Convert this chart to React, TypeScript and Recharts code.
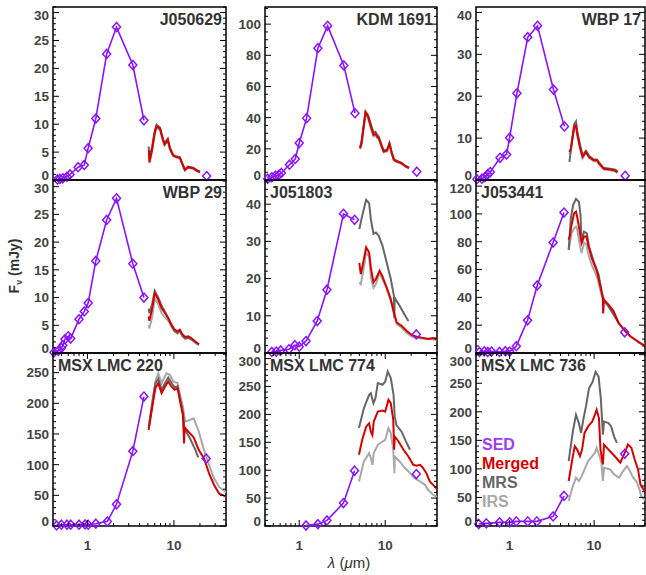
import React from "react"
import { LineChart, Line, XAxis, YAxis, ReferenceArea } from "recharts"

type Pt = [number, number]

// x axis (wavelength, micron, log)
const xMinorTicks = [0.4, 0.5, 0.6, 0.7, 0.8, 0.9, 1, 2, 3, 4, 5, 6, 7, 8, 9, 10, 20, 30, 40]
const xLabelTicks = [1, 10]

// ---- J050629
const j050629Sed: Pt[] = [[0.45, 0.1], [0.48, 0.2], [0.52, 0.3], [0.58, 0.6], [0.63, 1.0], [0.78, 2.3], [0.92, 2.7], [1.02, 5.7], [1.25, 11.0], [1.67, 22.6], [2.17, 27.4], [3.35, 20.6], [4.5, 10.7]]
const j050629Sed24: Pt[] = [[23.9, 0.7]]
const j050629Merged: Pt[] = [[5.15, 5.3], [5.22, 3.2], [5.6, 5.5], [6.0, 8.5], [6.3, 9.6], [6.9, 9.2], [7.5, 7.1], [7.8, 6.4], [8.5, 7.2], [9.0, 5.6], [9.8, 4.4], [10.8, 4.1], [11.7, 4.0], [12.5, 2.9], [13.4, 1.8], [14.5, 2.3], [16.7, 2.1], [18.3, 1.7], [20.0, 1.4]]
const j050629Mrs: Pt[] = [[5.1, 6.0], [5.2, 4.0], [5.6, 6.0], [6.0, 8.8], [6.3, 9.9], [6.9, 9.4], [7.5, 7.3], [7.8, 6.6], [8.5, 7.4], [9.0, 5.8], [9.8, 4.5], [10.8, 4.2], [11.7, 4.1], [12.5, 3.0], [13.4, 1.9], [14.5, 2.4], [16.7, 2.2], [18.3, 1.8], [20.0, 1.5]]
const j050629Irs: Pt[] = [[5.15, 4.8], [5.22, 3.0], [5.6, 5.2], [6.0, 8.2], [6.3, 9.3], [6.9, 9.0], [7.5, 6.9], [7.8, 6.2], [8.5, 7.0], [9.0, 5.5], [9.8, 4.3], [10.8, 4.0], [11.7, 3.9], [12.5, 2.8], [13.4, 1.7], [14.5, 2.2], [16.7, 2.0], [18.3, 1.6], [20.0, 1.3]]

// ---- KDM 1691
const kdm1691Sed: Pt[] = [[0.43, 0.8], [0.48, 1.7], [0.53, 2.8], [0.58, 3.4], [0.62, 4.5], [0.77, 9.8], [0.9, 13.5], [1.0, 23.7], [1.22, 39.7], [1.65, 84.6], [2.14, 98.9], [3.3, 73.5], [4.45, 42.9]]
const kdm1691Sed24: Pt[] = [[23.3, 5.3]]
const kdm1691Merged: Pt[] = [[5.1, 20.4], [5.3, 23.6], [5.9, 43.3], [6.3, 40.8], [6.9, 33.3], [7.3, 29.0], [7.7, 29.6], [8.1, 27.6], [8.4, 27.0], [9.1, 21.5], [9.6, 18.3], [10.5, 18.9], [11.2, 23.3], [11.9, 17.3], [12.6, 13.0], [13.5, 12.0], [15.3, 10.9], [17.3, 8.7], [18.9, 7.7]]
const kdm1691Mrs: Pt[] = [[5.1, 21.0], [5.3, 24.5], [5.9, 44.0], [6.3, 41.8], [6.9, 34.8], [7.3, 30.5], [7.7, 31.0], [8.1, 28.8], [8.4, 28.0], [9.1, 22.3], [9.6, 19.0], [10.5, 19.5], [11.2, 23.8], [11.9, 17.8], [12.6, 13.5], [13.5, 12.4], [15.3, 11.2], [17.3, 9.0], [18.9, 8.0]]
const kdm1691Irs: Pt[] = [[5.1, 19.8], [5.3, 22.8], [5.9, 42.5], [6.3, 39.8], [6.9, 32.2], [7.3, 28.0], [7.7, 28.6], [8.1, 26.8], [8.4, 26.2], [9.1, 21.0], [9.6, 17.8], [10.5, 18.4], [11.2, 22.8], [11.9, 16.8], [12.6, 12.6], [13.5, 11.6], [15.3, 10.5], [17.3, 8.4], [18.9, 7.4]]

// ---- WBP 17
const wbp17Sed: Pt[] = [[0.41, 0.2], [0.47, 0.3], [0.51, 0.7], [0.55, 1.4], [0.59, 1.9], [0.77, 5.3], [0.92, 6.1], [1.0, 10.1], [1.22, 20.7], [1.64, 34.1], [2.14, 36.8], [3.3, 21.6], [4.45, 12.8]]
const wbp17Sed24: Pt[] = [[23.3, 1.0]]
const wbp17Merged: Pt[] = [[5.1, 6.7], [5.3, 7.5], [5.8, 12.7], [6.1, 13.0], [6.3, 11.1], [6.8, 7.9], [7.3, 5.5], [8.0, 6.7], [8.7, 5.5], [9.9, 4.7], [10.8, 4.7], [11.6, 3.8], [13.0, 2.7], [15.4, 2.5], [17.5, 2.3], [18.9, 1.9]]
const wbp17Mrs: Pt[] = [[5.1, 4.3], [5.3, 7.0], [5.8, 13.3], [6.1, 14.0], [6.3, 11.8], [6.8, 8.4], [7.3, 5.9], [8.0, 7.0], [8.7, 5.8], [9.9, 4.9], [10.8, 4.9], [11.6, 4.0], [13.0, 2.9], [15.4, 2.7], [17.5, 2.5], [18.9, 2.1]]
const wbp17Irs: Pt[] = [[5.1, 6.2], [5.3, 7.2], [5.8, 12.2], [6.1, 12.6], [6.3, 10.7], [6.8, 7.6], [7.3, 5.2], [8.0, 6.5], [8.7, 5.3], [9.9, 4.5], [10.8, 4.5], [11.6, 3.6], [13.0, 2.5], [15.4, 2.3], [17.5, 2.1], [18.9, 1.7]]

// ---- WBP 29
const wbp29Sed: Pt[] = [[0.41, 0.1], [0.46, 0.4], [0.5, 0.9], [0.52, 1.4], [0.55, 2.5], [0.6, 3.0], [0.64, 2.6], [0.8, 6.1], [0.92, 7.5], [1.02, 9.0], [1.25, 16.6], [1.67, 24.0], [2.17, 27.9], [3.35, 16.1], [4.5, 10.0]]
const wbp29Sed24: Pt[] = []
const wbp29Merged: Pt[] = [[5.1, 6.6], [5.2, 5.8], [5.6, 8.0], [6.0, 10.8], [6.6, 9.6], [7.2, 8.1], [7.9, 7.2], [8.6, 6.3], [9.4, 5.1], [10.2, 4.2], [11.0, 3.9], [11.7, 4.2], [12.5, 3.4], [13.5, 2.9], [14.7, 3.0], [15.8, 2.7], [18.6, 1.8], [19.5, 1.6]]
const wbp29Mrs: Pt[] = [[5.1, 8.0], [5.2, 7.2], [5.6, 8.8], [6.0, 11.2], [6.6, 10.0], [7.2, 8.5], [7.9, 7.4], [8.6, 6.2], [9.4, 4.9], [10.2, 3.9], [11.0, 3.6], [11.7, 4.0], [12.5, 3.1], [13.5, 2.6], [14.7, 2.7], [15.8, 2.5], [18.6, 1.7], [19.5, 1.5]]
const wbp29Irs: Pt[] = [[5.1, 5.0], [5.2, 4.4], [5.6, 6.5], [6.0, 9.8], [6.6, 8.8], [7.2, 7.2], [7.9, 6.4], [8.6, 5.8], [9.4, 4.7], [10.2, 3.9], [11.0, 3.5], [11.7, 3.9], [12.5, 3.1], [13.5, 2.6], [14.7, 2.8], [15.8, 2.5], [18.6, 1.6], [19.5, 1.5]]

// ---- J051803
const j051803Sed: Pt[] = [[0.48, 0.3], [0.54, 0.4], [0.61, 0.7], [0.76, 1.0], [0.89, 2.1], [1.0, 1.7], [1.2, 3.2], [1.62, 8.6], [2.1, 17.0], [3.27, 37.4], [4.4, 35.8]]
const j051803Sed24: Pt[] = [[23.0, 5.0]]
const j051803Merged: Pt[] = [[5.0, 24.2], [5.2, 21.2], [5.5, 23.9], [6.0, 28.4], [6.5, 27.0], [6.8, 23.0], [7.3, 19.0], [7.8, 19.9], [8.6, 22.1], [9.2, 20.8], [10.2, 18.1], [11.6, 14.5], [12.5, 11.3], [13.6, 8.2], [15.5, 7.3], [17.8, 5.9], [20.4, 4.8], [23.4, 4.4], [26.7, 4.1], [31.7, 3.8], [36.0, 4.0], [40.0, 3.6]]
const j051803Mrs: Pt[] = [[5.0, 33.3], [5.4, 36.9], [6.0, 41.2], [6.5, 40.3], [6.8, 36.0], [7.3, 32.0], [7.8, 32.4], [8.4, 31.5], [9.3, 28.8], [10.5, 23.9], [11.6, 19.9], [12.6, 15.5], [12.75, 9.5], [12.9, 14.8], [14.7, 12.7], [16.7, 10.4], [18.6, 8.6]]
const j051803Irs: Pt[] = [[5.0, 19.0], [5.2, 18.5], [5.5, 21.5], [6.0, 27.0], [6.5, 26.0], [6.8, 20.5], [7.3, 17.5], [7.8, 18.5], [8.6, 21.5], [9.2, 20.0], [10.2, 17.8], [11.6, 14.0], [12.5, 10.8], [13.6, 7.8], [15.5, 6.8], [17.8, 5.4], [20.4, 4.4], [23.4, 4.0], [30.0, 3.8], [37.0, 3.6], [40.0, 3.4]]

// ---- J053441
const j053441Sed: Pt[] = [[0.44, 0.8], [0.5, 1.2], [0.55, 0.8], [0.61, 1.0], [0.76, 0.8], [0.89, 1.3], [1.0, 1.0], [1.2, 4.9], [1.63, 23.5], [2.12, 48.6], [3.27, 79.4], [4.4, 101.0]]
const j053441Sed24: Pt[] = [[23.0, 14.9]]
const j053441Merged: Pt[] = [[5.0, 81.4], [5.2, 85], [5.4, 92.1], [5.8, 100.5], [6.1, 101.7], [6.3, 98], [6.7, 88.5], [7.1, 79], [7.6, 83.7], [8.1, 83.7], [8.5, 77.8], [9.4, 68.2], [10.8, 58.7], [12.2, 44.3], [12.7, 39.6], [12.8, 28.8], [13.0, 38.4], [14.8, 34.8], [17.0, 30.0], [19.5, 21.6], [23.5, 15.6], [26.9, 12.0], [30.5, 9.7], [34.8, 7.3], [37.0, 6.2], [40.0, 5.5]]
const j053441Mrs: Pt[] = [[5.0, 74.2], [5.3, 96.9], [5.65, 106.5], [6.1, 110.8], [6.6, 108.8], [6.9, 99.3], [7.1, 80], [7.6, 87.3], [8.2, 86.1], [8.7, 76.6], [9.9, 65.8], [11.3, 56.3], [12.5, 41.9], [13.5, 36.5], [14.8, 33.5], [17.0, 27.6], [19.5, 21.6]]
const j053441Irs: Pt[] = [[5.0, 74], [5.2, 80], [5.4, 86], [5.8, 89.7], [6.1, 91], [6.3, 89], [6.7, 79], [7.1, 71.8], [7.6, 79.4], [8.1, 78], [8.5, 71.5], [9.4, 63], [10.8, 55], [12.2, 42], [12.7, 38], [12.8, 28], [13.0, 37], [14.8, 34], [17.0, 29.5], [19.5, 21.2], [23.5, 15.4], [26.9, 11.8], [30.5, 9.5], [34.8, 7.2], [40.0, 5.8]]

// ---- MSX LMC 220
const lmc220Sed: Pt[] = [[0.44, 1.0], [0.5, 2.1], [0.58, 2.1], [0.64, 2.1], [0.8, 2.1], [0.94, 2.6], [1.02, 2.1], [1.25, 3.8], [1.7, 7.5], [2.17, 35.4], [3.35, 122], [4.5, 211]]
const lmc220Sed24: Pt[] = [[23.6, 110]]
const lmc220Merged: Pt[] = [[5.1, 156.5], [5.6, 192], [6.1, 224.7], [6.6, 232.9], [7.2, 216.5], [7.9, 227.3], [8.6, 235.5], [9.4, 227], [10.2, 222], [11.0, 224.7], [11.9, 200], [12.7, 181], [13.1, 134.7], [13.3, 160.9], [14.7, 153.7], [16.9, 144.5], [19.4, 123.7], [22.3, 110], [25.5, 85.6], [29.2, 66.4], [33.4, 52.8], [40.0, 48]]
const lmc220Mrs: Pt[] = [[5.1, 160], [5.6, 200], [6.1, 232], [6.6, 240], [7.2, 222], [7.9, 233], [8.6, 242], [9.4, 233], [10.2, 226], [11.0, 228], [11.9, 205], [12.7, 185], [13.3, 158], [15.3, 143], [17.6, 125], [19.1, 112]]
const lmc220Irs: Pt[] = [[5.2, 167], [6.1, 235.5], [6.6, 249], [7.2, 233], [8.2, 249], [9.0, 246.5], [9.8, 235.5], [11.0, 233], [11.9, 211], [12.7, 194.6], [13.5, 170], [15.3, 172.8], [16.9, 175.6], [19.4, 153.7], [22.3, 123.7], [25.5, 99.2], [29.2, 77.4], [33.4, 63.7], [40.0, 55]]

// ---- MSX LMC 774
const lmc774Sed: Pt[] = [[1.2, 0.9], [1.65, 3.3], [2.1, 10], [3.27, 41], [4.4, 99]]
const lmc774Sed24: Pt[] = [[23.0, 93]]
const lmc774Merged: Pt[] = [[4.95, 127.6], [5.4, 154.5], [6.0, 178], [6.5, 184], [6.8, 169], [7.1, 163], [7.35, 187], [8.2, 205], [9.3, 207], [10.0, 205], [10.9, 226], [11.6, 220], [12.4, 190], [12.7, 136.6], [12.9, 160], [14.3, 151.5], [16.3, 136.6], [18.6, 124.6], [21.2, 109.7], [23.2, 108], [25.4, 109.7], [27.6, 103.8], [30.1, 94.8], [33.0, 79.7], [37.0, 72], [40.0, 66]]
const lmc774Mrs: Pt[] = [[4.95, 175.4], [5.65, 211], [6.5, 235], [6.8, 238], [7.3, 220], [7.7, 229], [8.2, 256], [9.3, 253], [10.0, 259], [10.7, 277], [11.6, 265], [12.5, 235], [12.9, 196], [13.5, 181], [15.5, 169], [17.8, 148.6], [19.4, 136.6]]
const lmc774Irs: Pt[] = [[4.95, 79.7], [5.65, 115.6], [6.5, 130.6], [6.8, 121.7], [7.1, 109.7], [7.35, 130.6], [8.2, 145.5], [9.3, 151.4], [10.0, 154.5], [10.9, 175.4], [11.6, 166.5], [12.4, 136.6], [12.8, 94.8], [12.9, 124.6], [14.7, 115.6], [17.0, 103.8], [19.4, 94.8], [22.0, 85.8], [25.4, 79.7], [29.0, 73.8], [31.5, 64.9], [36.0, 56], [40.0, 52]]

// ---- MSX LMC 736
const lmc736Sed: Pt[] = [[0.43, 3.5], [0.53, 4.6], [0.76, 6.4], [1.0, 6.4], [1.2, 8.1], [1.64, 8.1], [2.1, 8.1], [3.27, 16.8], [4.4, 52.7]]
const lmc736Sed24: Pt[] = [[23.0, 126.4]]
const lmc736Merged: Pt[] = [[5.0, 78.8], [5.6, 122.3], [5.9, 139.7], [6.3, 133.9], [6.8, 122.3], [7.2, 133.9], [7.7, 163], [8.5, 174.4], [9.5, 183], [10.2, 194.8], [10.7, 203.5], [11.4, 189], [11.9, 133.9], [12.7, 107.8], [13.1, 142.6], [14.8, 133.9], [16.8, 125.2], [18.2, 119.5], [20.4, 110.8], [23.0, 128.2], [25.1, 142.6], [27.6, 136.9], [30.2, 116.5], [33.1, 99.1], [35.3, 73], [40.0, 60]]
const lmc736Mrs: Pt[] = [[5.0, 113.6], [5.6, 165.8], [6.1, 194.8], [6.6, 180.3], [7.0, 163], [7.5, 189], [8.0, 209], [8.7, 241], [9.6, 252.7], [10.4, 270], [11.3, 261.4], [12.0, 223.8], [12.7, 160], [13.1, 183], [14.8, 180.3], [15.9, 174.4], [17.2, 157], [18.6, 145.5]]
const lmc736Irs: Pt[] = [[5.0, 44], [5.6, 70], [6.1, 84.7], [6.6, 78.8], [7.0, 84.7], [7.7, 99.1], [8.5, 113.6], [9.5, 122.3], [10.2, 128.2], [10.7, 136.9], [11.4, 125.2], [12.2, 110.8], [12.7, 78.8], [13.1, 102.1], [15.5, 99.1], [17.2, 90.4], [19.8, 84.7], [22.0, 96.2], [24.5, 104.9], [26.5, 96.2], [29.0, 84.7], [31.5, 78.8], [34.4, 64.3], [36.0, 52.7], [40.0, 45]]

// y tick labels per panel
const yLabels30 = [0, 5, 10, 15, 20, 25, 30]
const yLabels100 = [0, 20, 40, 60, 80, 100]
const yLabels40 = [0, 10, 20, 30, 40]
const yLabels120 = [0, 20, 40, 60, 80, 100, 120]
const yLabels250 = [0, 50, 100, 150, 200, 250]
const yLabels300 = [0, 50, 100, 150, 200, 250, 300]

const PURPLE = "#8a14ff"
const RED = "#d40000"
const DARK = "#666666"
const LIGHT = "#a8a8a8"
const FONT = '"Liberation Sans", Arial, Helvetica, sans-serif'

const colLeft = [53, 265, 476]
const colWidth = [173, 172, 169]
const rowTop = [7, 180, 353]
const PLOT_H = 173
const PAD_T = 6 // room above the plot for clamped labels
const PAD_B = 8

const panels = [
  { name: "J050629", sed: j050629Sed, sed24: j050629Sed24, merged: j050629Merged, mrs: j050629Mrs, irs: j050629Irs, yMax: 31, yLabels: yLabels30, yMinor: 1, col: 0, row: 0, right: true },
  { name: "KDM 1691", sed: kdm1691Sed, sed24: kdm1691Sed24, merged: kdm1691Merged, mrs: kdm1691Mrs, irs: kdm1691Irs, yMax: 111, yLabels: yLabels100, yMinor: 5, col: 1, row: 0, right: true },
  { name: "WBP 17", sed: wbp17Sed, sed24: wbp17Sed24, merged: wbp17Merged, mrs: wbp17Mrs, irs: wbp17Irs, yMax: 41.3, yLabels: yLabels40, yMinor: 2, col: 2, row: 0, right: true },
  { name: "WBP 29", sed: wbp29Sed, sed24: wbp29Sed24, merged: wbp29Merged, mrs: wbp29Mrs, irs: wbp29Irs, yMax: 31.2, yLabels: yLabels30, yMinor: 1, col: 0, row: 1, right: true },
  { name: "J051803", sed: j051803Sed, sed24: j051803Sed24, merged: j051803Merged, mrs: j051803Mrs, irs: j051803Irs, yMax: 46.5, yLabels: yLabels40, yMinor: 2, col: 1, row: 1, right: false },
  { name: "J053441", sed: j053441Sed, sed24: j053441Sed24, merged: j053441Merged, mrs: j053441Mrs, irs: j053441Irs, yMax: 124.4, yLabels: yLabels120, yMinor: 5, col: 2, row: 1, right: false },
  { name: "MSX LMC 220", sed: lmc220Sed, sed24: lmc220Sed24, merged: lmc220Merged, mrs: lmc220Mrs, irs: lmc220Irs, yMax: 282, yLabels: yLabels250, yMinor: 10, col: 0, row: 2, right: false },
  { name: "MSX LMC 774", sed: lmc774Sed, sed24: lmc774Sed24, merged: lmc774Merged, mrs: lmc774Mrs, irs: lmc774Irs, yMax: 310, yLabels: yLabels300, yMinor: 10, col: 1, row: 2, right: false },
  { name: "MSX LMC 736", sed: lmc736Sed, sed24: lmc736Sed24, merged: lmc736Merged, mrs: lmc736Mrs, irs: lmc736Irs, yMax: 303, yLabels: yLabels300, yMinor: 10, col: 2, row: 2, right: false },
]

const legendItems = [
  { label: "SED", color: "#9b3dff" },
  { label: "Merged", color: RED },
  { label: "MRS", color: DARK },
  { label: "IRS", color: LIGHT },
]

const pts = (a: Pt[]) => a.map(([x, y]) => ({ x, y }))

const labelStyle = { fontFamily: FONT, fontWeight: 700, fontSize: 13.5, fill: "#444" }

function diamond(d: any) {
  if (d.cx == null || d.cy == null) return <g key={`n-${d.index}`} />
  const { cx, cy } = d
  return (
    <path
      key={`dm-${d.index}`}
      d={`M${cx} ${cy - 4.5}L${cx + 4} ${cy}L${cx} ${cy + 4.5}L${cx - 4} ${cy}Z`}
      fill="none"
      stroke={PURPLE}
      strokeWidth={1.5}
    />
  )
}

function Panel({ p }: { p: any }) {
  const left = colLeft[p.col]
  const w = colWidth[p.col]
  const top = rowTop[p.row]
  const bottomRow = p.row === 2
  const axisH = bottomRow ? 30 : 0
  const padB = bottomRow ? 0 : PAD_B
  const yTicks: number[] = []
  for (let v = 0; v <= p.yMax; v += p.yMinor) yTicks.push(v)

  const xTick = (t: any) => {
    const v = t.payload.value
    const major = xLabelTicks.includes(v)
    const len = major ? 6 : 3
    return (
      <g>
        <line x1={t.x} x2={t.x} y1={t.y} y2={t.y - len} stroke="#000" />
        <line x1={t.x} x2={t.x} y1={t.y - PLOT_H} y2={t.y - PLOT_H + len} stroke="#000" />
        {major && bottomRow && (
          <text x={t.x} y={t.y + 24} textAnchor="middle" style={labelStyle}>
            {v}
          </text>
        )}
      </g>
    )
  }

  const yTick = (t: any) => {
    const v = t.payload.value
    const major = p.yLabels.includes(v)
    const len = major ? 6 : 3
    const ly = Math.min(Math.max(t.y, PAD_T + 8), PAD_T + PLOT_H - 5)
    return (
      <g>
        <line x1={t.x} x2={t.x + len} y1={t.y} y2={t.y} stroke="#000" />
        <line x1={t.x + w} x2={t.x + w - len} y1={t.y} y2={t.y} stroke="#000" />
        {major && (
          <text x={t.x - 4} y={ly} dy="0.36em" textAnchor="end" style={labelStyle}>
            {v}
          </text>
        )}
      </g>
    )
  }

  return (
    <div style={{ position: "absolute", left: left - 50, top: top - PAD_T }}>
      <LineChart
        width={50 + w + 2}
        height={PAD_T + PLOT_H + axisH + padB}
        margin={{ top: PAD_T, right: 2, bottom: padB, left: 0 }}
      >
        <XAxis
          type="number"
          dataKey="x"
          scale="log"
          domain={[0.4, 40]}
          ticks={xMinorTicks}
          interval={0}
          tickLine={false}
          axisLine={false}
          tickSize={0}
          tickMargin={0}
          height={axisH}
          tick={xTick}
        />
        <YAxis
          type="number"
          domain={[0, p.yMax]}
          ticks={yTicks}
          interval={0}
          tickLine={false}
          axisLine={false}
          tickSize={0}
          tickMargin={0}
          width={50}
          tick={yTick}
        />
        <ReferenceArea x1={0.4} x2={40} y1={0} y2={p.yMax} fill="none" stroke="#000" strokeWidth={1.5} />
        <Line data={pts(p.irs)} dataKey="y" stroke={LIGHT} strokeWidth={2} dot={false} activeDot={false} isAnimationActive={false} />
        <Line data={pts(p.mrs)} dataKey="y" stroke={DARK} strokeWidth={2} dot={false} activeDot={false} isAnimationActive={false} />
        <Line data={pts(p.merged)} dataKey="y" stroke={RED} strokeWidth={2} dot={false} activeDot={false} isAnimationActive={false} />
        <Line data={pts(p.sed)} dataKey="y" stroke={PURPLE} strokeWidth={1.6} dot={diamond} activeDot={false} isAnimationActive={false} />
        <Line data={pts(p.sed24)} dataKey="y" stroke="none" dot={diamond} activeDot={false} isAnimationActive={false} />
      </LineChart>
    </div>
  )
}

export default function App() {
  return (
    <div style={{ position: "absolute", left: 0, top: 0, width: 646, height: 575, overflow: "hidden", background: "#fff" }}>
      {panels.map((p) => (
        <Panel key={p.name} p={p} />
      ))}
      <svg width={646} height={575} style={{ position: "absolute", left: 0, top: 0, pointerEvents: "none" }}>
        {panels.map((p) => {
          const left = colLeft[p.col]
          const w = colWidth[p.col]
          const top = rowTop[p.row]
          return (
            <text
              key={p.name}
              x={p.right ? left + w - 4 : left + 5}
              y={top + 18}
              textAnchor={p.right ? "end" : "start"}
              style={{ fontFamily: FONT, fontWeight: 700, fontSize: 16, fill: "#333" }}
            >
              {p.name}
            </text>
          )
        })}
        {legendItems.map((l, i) => (
          <text key={l.label} x={482} y={450 + i * 19} style={{ fontFamily: FONT, fontWeight: 700, fontSize: 16, fill: l.color }}>
            {l.label}
          </text>
        ))}
        <text x={-266} y={19} transform="rotate(-90)" textAnchor="middle" style={{ fontFamily: FONT, fontWeight: 700, fontSize: 14, fill: "#333" }}>
          F<tspan fontSize={9} dy={3}>ν</tspan>
          <tspan dy={-3}> (mJy)</tspan>
        </text>
        <text x={349} y={568} textAnchor="middle" style={{ fontFamily: FONT, fontSize: 15, fill: "#333" }}>
          <tspan fontStyle="italic">λ</tspan> (<tspan fontStyle="italic">μ</tspan>m)
        </text>
      </svg>
    </div>
  )
}
